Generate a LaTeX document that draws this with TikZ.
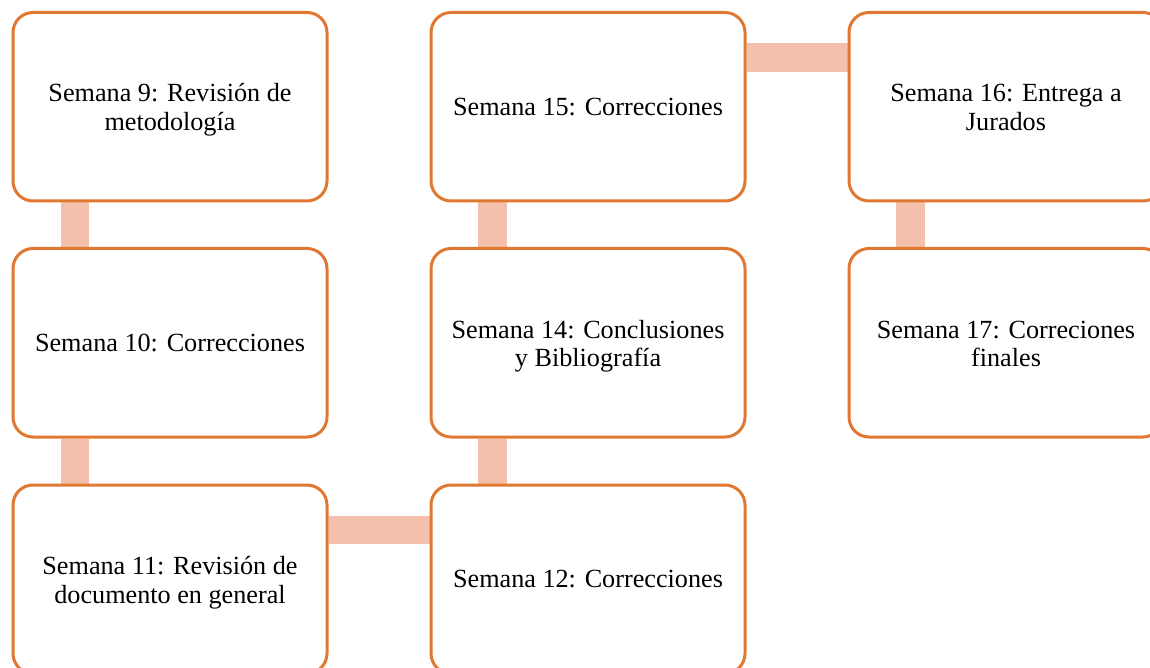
\documentclass[tikz,border=0pt]{standalone}
\usepackage{fontspec}
\setmainfont{Liberation Serif}
\usetikzlibrary{backgrounds}
\definecolor{boxline}{RGB}{224,120,50}
\definecolor{connfill}{RGB}{244,192,172}
\newcommand\topstr{\rule{0pt}{25pt}}
\newcommand\botstr{\rule[-6pt]{0pt}{0pt}}
\tikzset{
  weekbox/.style={draw=boxline, line width=3pt, fill=white, rounded corners=20pt,
    minimum width=314pt, minimum height=188.5pt, align=center, inner sep=0pt,
    font=\fontsize{26.2}{28.5}\selectfont},
  conn/.style={draw=connfill, line width=28.5pt}
}
\begin{document}
\begin{tikzpicture}[x=1pt, y=-1pt]
\clip (0,0) rectangle (1150,668);
\node[weekbox] (s9)  at (170,106.75) {\topstr Semana 9: Revisión de\\metodología\botstr};
\node[weekbox] (s10) at (170,342.75) {Semana 10: Correcciones};
\node[weekbox] (s11) at (170,579.25) {\topstr Semana 11: Revisión de\\documento en general\botstr};
\node[weekbox] (s12) at (588,579.25) {Semana 12: Correcciones};
\node[weekbox] (s14) at (588,342.75) {\topstr Semana 14: Conclusiones\\y Bibliografía\botstr};
\node[weekbox] (s15) at (588,106.75) {Semana 15: Correcciones};
\node[weekbox] (s16) at (1006,106.75) {\topstr Semana 16: Entrega a\\Jurados\botstr};
\node[weekbox] (s17) at (1006,342.75) {\topstr Semana 17: Correciones\\finales\botstr};
\begin{scope}[on background layer]
\draw[conn] ([xshift=63.5pt]s9.south west) -- ([xshift=63.5pt]s10.north west);
\draw[conn] ([xshift=63.5pt]s10.south west) -- ([xshift=63.5pt]s11.north west);
\draw[conn] ([yshift=-46.5pt]s11.north east) -- ([yshift=-46.5pt]s12.north west);
\draw[conn] ([xshift=63pt]s12.north west) -- ([xshift=63pt]s14.south west);
\draw[conn] ([xshift=63pt]s14.north west) -- ([xshift=63pt]s15.south west);
\draw[conn] ([yshift=-46.5pt]s15.north east) -- ([yshift=-46.5pt]s16.north west);
\draw[conn] ([xshift=63pt]s16.south west) -- ([xshift=63pt]s17.north west);
\end{scope}
\end{tikzpicture}
\end{document}
